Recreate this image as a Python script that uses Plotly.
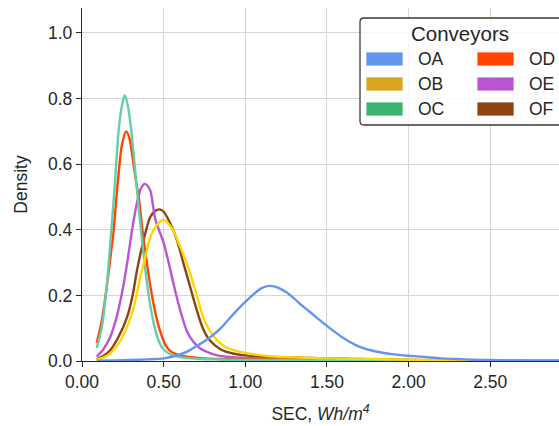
import plotly.graph_objects as go

# ---------------- data ----------------
names = ["OA", "OB", "OC", "OD", "OE", "OF"]
legend_colors = ["#6495ED", "#DAA520", "#3CB371", "#FF4500", "#BA55D3", "#8B4513"]
line_colors = ["#6495ED", "#FFD700", "#66CDAA", "#FF4500", "#BA55D3", "#8B4513"]

OA_x = [0.09, 0.2, 0.3, 0.4, 0.5, 0.55, 0.6, 0.65, 0.7, 0.75, 0.8, 0.85, 0.9, 0.95, 1.0, 1.05,
        1.1, 1.15, 1.2, 1.25, 1.3, 1.35, 1.4, 1.45, 1.5, 1.55, 1.6, 1.7, 1.8, 1.9, 2.0, 2.1,
        2.2, 2.3, 2.4, 2.5, 2.6, 2.7, 2.8, 2.95]
OA_y = [0.001, 0.002, 0.003, 0.005, 0.008, 0.013, 0.02, 0.03, 0.045, 0.06, 0.078, 0.10, 0.128,
        0.155, 0.18, 0.203, 0.222, 0.229, 0.224, 0.21, 0.19, 0.168, 0.148, 0.127, 0.107, 0.088,
        0.07, 0.043, 0.029, 0.021, 0.016, 0.012, 0.008, 0.006, 0.004, 0.003, 0.002, 0.0015,
        0.001, 0.001]

OB_x = [0.09, 0.13, 0.17, 0.22, 0.276, 0.32, 0.357, 0.39, 0.418, 0.46, 0.50, 0.55, 0.60, 0.65,
        0.70, 0.745, 0.80, 0.87, 0.95, 1.03, 1.1, 1.2, 1.3, 1.4, 1.5, 1.6, 1.7, 1.8, 1.9, 2.0,
        2.2, 2.4, 2.92]
OB_y = [0.004, 0.01, 0.022, 0.05, 0.104, 0.17, 0.256, 0.32, 0.378, 0.415, 0.43, 0.405, 0.35,
        0.285, 0.205, 0.13, 0.08, 0.045, 0.03, 0.022, 0.017, 0.013, 0.011, 0.009, 0.008, 0.007,
        0.006, 0.006, 0.005, 0.004, 0.003, 0.002, 0.0]

OC_x = [0.09, 0.12, 0.15, 0.175, 0.20, 0.224, 0.245, 0.261, 0.28, 0.30, 0.32, 0.337, 0.367,
        0.40, 0.425, 0.449, 0.475, 0.50, 0.55, 0.60, 0.70, 0.80, 0.90, 1.0, 1.2, 1.4, 1.6,
        2.0, 2.5, 2.92]
OC_y = [0.04, 0.10, 0.22, 0.37, 0.53, 0.70, 0.78, 0.81, 0.78, 0.71, 0.61, 0.52, 0.37, 0.23,
        0.15, 0.094, 0.055, 0.035, 0.018, 0.012, 0.007, 0.005, 0.004, 0.003, 0.003, 0.002,
        0.002, 0.001, 0.0005, 0.0]

OD_x = [0.09, 0.12, 0.15, 0.175, 0.194, 0.22, 0.245, 0.27, 0.29, 0.31, 0.33, 0.347, 0.377, 0.40,
        0.418, 0.45, 0.479, 0.51, 0.541, 0.58, 0.65, 0.75, 0.85, 0.95, 1.05, 1.15, 1.25, 1.3,
        1.35, 1.45, 1.6, 1.8, 2.0, 2.3, 2.92]
OD_y = [0.055, 0.12, 0.22, 0.32, 0.40, 0.55, 0.66, 0.70, 0.68, 0.62, 0.55, 0.50, 0.37, 0.29,
        0.23, 0.145, 0.09, 0.05, 0.03, 0.02, 0.012, 0.008, 0.006, 0.005, 0.005, 0.006, 0.009,
        0.011, 0.009, 0.005, 0.004, 0.003, 0.002, 0.001, 0.0]

OE_x = [0.09, 0.13, 0.17, 0.21, 0.25, 0.28, 0.31, 0.34, 0.36, 0.383, 0.40, 0.418, 0.45, 0.50,
        0.54, 0.57, 0.61, 0.643, 0.68, 0.724, 0.78, 0.83, 0.9, 1.0, 1.1, 1.2, 1.3, 1.4, 1.5,
        1.6, 1.8, 2.0, 2.3, 2.92]
OE_y = [0.013, 0.035, 0.07, 0.13, 0.22, 0.31, 0.41, 0.49, 0.525, 0.54, 0.535, 0.52, 0.43, 0.36,
        0.28, 0.215, 0.14, 0.09, 0.06, 0.038, 0.025, 0.017, 0.012, 0.009, 0.008, 0.007, 0.007,
        0.007, 0.006, 0.006, 0.004, 0.003, 0.001, 0.0]

OF_x = [0.09, 0.13, 0.173, 0.22, 0.276, 0.31, 0.337, 0.377, 0.418, 0.45, 0.475, 0.50, 0.54,
        0.582, 0.62, 0.66, 0.70, 0.74, 0.78, 0.85, 0.93, 1.0, 1.1, 1.2, 1.3, 1.4, 1.5, 1.6, 1.7,
        1.8, 2.0, 2.2, 2.5, 2.92]
OF_y = [0.005, 0.015, 0.033, 0.07, 0.134, 0.20, 0.277, 0.368, 0.439, 0.458, 0.462, 0.455, 0.42,
        0.368, 0.30, 0.23, 0.16, 0.10, 0.065, 0.035, 0.022, 0.017, 0.013, 0.011, 0.010, 0.009,
        0.008, 0.007, 0.006, 0.005, 0.003, 0.002, 0.001, 0.0]

series_x = [OA_x, OB_x, OC_x, OD_x, OE_x, OF_x]
series_y = [OA_y, OB_y, OC_y, OD_y, OE_y, OF_y]

x_tick_vals = [0.0, 0.5, 1.0, 1.5, 2.0, 2.5]
y_tick_vals = [0.0, 0.2, 0.4, 0.6, 0.8, 1.0]
legend_title = "Conveyors"

# ---------------- figure ----------------
W, H = 559, 426
ML, MR, MT, MB = 82, 0, 8, 65
FONT = "Liberation Sans, Arial, sans-serif"
TXT = "#262626"
FS = 17.5

fig = go.Figure()
# first hue drawn on top (seaborn style): add in reverse order
for i in reversed(range(len(names))):
    fig.add_trace(go.Scatter(
        x=series_x[i], y=series_y[i], mode="lines", name=names[i],
        line=dict(color=line_colors[i], width=2.4, shape="spline", smoothing=0.8),
        showlegend=False, hoverinfo="skip"))

fig.update_layout(
    width=W, height=H,
    margin=dict(l=ML, r=MR, t=MT, b=MB, pad=0),
    paper_bgcolor="white", plot_bgcolor="white",
    font=dict(family=FONT, size=FS, color=TXT),
    showlegend=False,
)
fig.update_xaxes(
    range=[0, 2.921], tickvals=x_tick_vals, tickformat=".2f",
    showgrid=True, gridcolor="#d6d6d6", gridwidth=1,
    showline=True, linecolor="#262626", linewidth=1.3,
    ticks="outside", ticklen=5, tickwidth=1.3, tickcolor="#262626",
    tickfont=dict(size=FS, color=TXT), zeroline=False,
    title=dict(text="SEC, <i>Wh/m<sup>4</sup></i>", font=dict(size=FS, color=TXT), standoff=16),
)
fig.update_yaxes(
    range=[0, 1.076], tickvals=y_tick_vals, tickformat=".1f",
    showgrid=True, gridcolor="#d6d6d6", gridwidth=1,
    showline=True, linecolor="#262626", linewidth=1.3,
    ticks="outside", ticklen=5, tickwidth=1.3, tickcolor="#262626",
    tickfont=dict(size=FS, color=TXT), zeroline=False,
    title=dict(text="Density", font=dict(size=FS, color=TXT), standoff=15),
)

# ---------------- custom legend (colored patches) ----------------
pw = W - ML - MR
ph = H - MT - MB
def px(xp):
    return (xp - ML) / pw
def py(yp):
    return (H - MB - yp) / ph

x0, x1, y0, y1, r = 360, 575, 18, 125, 4
path = (f"M {px(x0 + r)},{py(y0)} L {px(x1)},{py(y0)} L {px(x1)},{py(y1)} "
        f"L {px(x0 + r)},{py(y1)} Q {px(x0)},{py(y1)} {px(x0)},{py(y1 - r)} "
        f"L {px(x0)},{py(y0 + r)} Q {px(x0)},{py(y0)} {px(x0 + r)},{py(y0)} Z")
shapes = [dict(type="path", xref="paper", yref="paper", path=path,
               line=dict(color="#3a3a3a", width=1.3), fillcolor="rgba(255,255,255,0.82)",
               layer="above")]
annotations = [dict(text=legend_title, xref="paper", yref="paper", x=px(460), y=py(33),
                    xanchor="center", yanchor="middle", showarrow=False,
                    font=dict(size=20.5, color=TXT, family=FONT))]
col_patch_x = [366, 477]
col_text_x = [416, 527]
row_y = [59, 84, 109]
for i, nm in enumerate(names):
    c, rr = divmod(i, 3)
    cy = row_y[rr]
    shapes.append(dict(type="rect", xref="paper", yref="paper",
                       x0=px(col_patch_x[c]), x1=px(col_patch_x[c] + 37),
                       y0=py(cy - 7), y1=py(cy + 7),
                       fillcolor=legend_colors[i], line=dict(color="white", width=0.8),
                       layer="above"))
    annotations.append(dict(text=nm, xref="paper", yref="paper", x=px(col_text_x[c]), y=py(cy),
                            xanchor="left", yanchor="middle", showarrow=False,
                            font=dict(size=FS, color=TXT, family=FONT)))
fig.update_layout(shapes=shapes, annotations=annotations)

fig.write_html(
    "out.html",
    config={"displayModeBar": False},
    post_script="document.body.style.margin='0';document.body.style.overflow='hidden';",
)
